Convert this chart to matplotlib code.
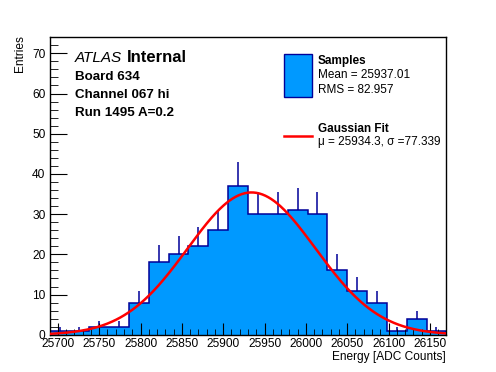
import numpy as np
import matplotlib
matplotlib.use("Agg")
import matplotlib.pyplot as plt
from matplotlib.ticker import MultipleLocator

plt.rcParams["font.family"] = ["Liberation Sans", "DejaVu Sans"]

# histogram: 20 bins of 24 ADC counts
edges = np.arange(25690, 26170 + 1, 24)
counts = np.array([1, 1, 2, 2, 8, 18, 20, 22, 26, 37,
                   30, 30, 31, 30, 16, 11, 8, 1, 4, 1])

# gaussian fit
fit_amp = 35.4
fit_mu = 25934.3
fit_sigma = 77.339

FILL, EDGE = "#0099ff", "#000099"
W, H = 496, 372


def fx(px):
    return px / W


def fy(py):
    return 1 - py / H


fig = plt.figure(figsize=(W / 100, H / 100), dpi=100)
ax = fig.add_axes([0.1, 0.1, 0.8, 0.8])

centers = 0.5 * (edges[:-1] + edges[1:])
err = np.sqrt(counts)
ax.vlines(centers, counts - err, counts + err, color=EDGE, linewidth=1.1, zorder=0.9)
ax.stairs(counts, edges, fill=True, color=FILL, zorder=1)
ax.stairs(counts, edges, color=EDGE, linewidth=1.1, zorder=1.1)

xf = np.linspace(edges[0], edges[-1], 400)
ax.plot(xf, fit_amp * np.exp(-0.5 * ((xf - fit_mu) / fit_sigma) ** 2),
        color="#ff0000", linewidth=1.8, zorder=3)

ax.set_xlim(edges[0], edges[-1])
ax.set_ylim(0, 74)
ax.xaxis.set_major_locator(MultipleLocator(50))
ax.xaxis.set_minor_locator(MultipleLocator(10))
ax.yaxis.set_major_locator(MultipleLocator(10))
ax.yaxis.set_minor_locator(MultipleLocator(2))
ax.tick_params(which="both", direction="in", top=False, right=False, labelsize=8.6)
ax.tick_params(axis="y", which="major", length=12, pad=3)
ax.tick_params(axis="y", which="minor", length=6)
ax.tick_params(axis="x", which="major", length=9, pad=2.5)
ax.tick_params(axis="x", which="minor", length=4.5)
for s in ax.spines.values():
    s.set_linewidth(1)
ax.set_axisbelow(False)

fig.text(fx(446), fy(357), "Energy [ADC Counts]", ha="right", va="center", fontsize=8.6)
fig.text(fx(20), fy(35), "Entries", rotation=90, ha="center", va="top", fontsize=8.6)

# ATLAS label block
fig.text(fx(75), fy(58), "ATLAS", style="italic", fontsize=11, ha="left", va="center")
fig.text(fx(127), fy(58), "Internal", weight="bold", fontsize=12, ha="left", va="center")
for py, s in [(76.5, "Board 634"), (94.5, "Channel 067 hi"), (112.5, "Run 1495 A=0.2")]:
    fig.text(fx(75), fy(py), s, weight="bold", fontsize=9.6, ha="left", va="center")

# legend
leg = fig.add_axes([0, 0, 1, 1], facecolor="none")
leg.set_axis_off()
leg.set_xlim(0, W)
leg.set_ylim(H, 0)
leg.add_patch(plt.Rectangle((283.5, 53.5), 28, 43, facecolor=FILL, edgecolor=EDGE, linewidth=1))
leg.plot([283.5, 311.5], [135.7, 135.7], color="#ff0000", linewidth=1.8)
leg.text(318, 61, "Samples", weight="bold", fontsize=8.5, va="center")
leg.text(318, 75.5, "Mean = 25937.01", fontsize=8.5, va="center")
leg.text(318, 90, "RMS = 82.957", fontsize=8.5, va="center")
leg.text(318, 129.3, "Gaussian Fit", weight="bold", fontsize=8.5, va="center")
leg.text(318, 141.7, "\u03bc = 25934.3, \u03c3 =77.339", fontsize=8.5, va="center")

fig.savefig("out.png", dpi=100)
